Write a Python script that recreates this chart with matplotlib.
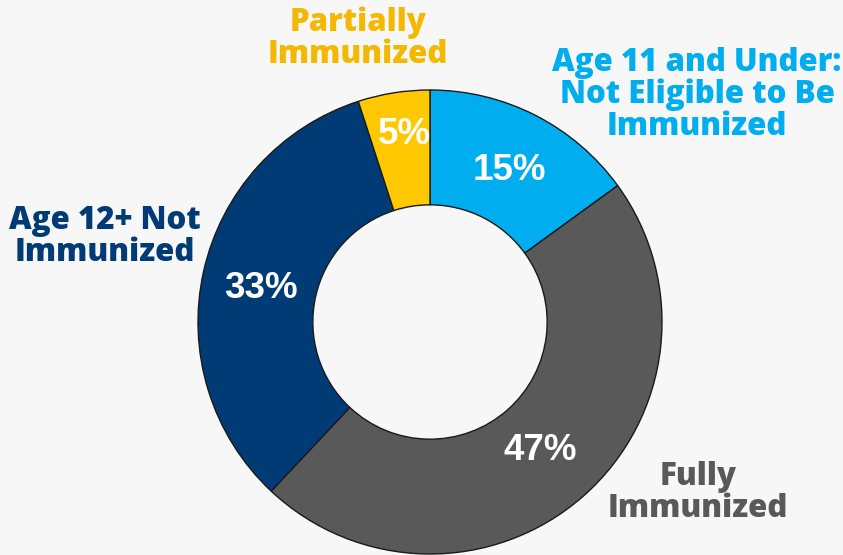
import matplotlib
matplotlib.use("Agg")
import matplotlib.pyplot as plt

categories = ["Age 11 and Under:\nNot Eligible to Be\nImmunized", "Fully\nImmunized",
              "Age 12+ Not\nImmunized", "Partially\nImmunized"]
values = [15, 47, 33, 5]
pct_labels = ["15%", "47%", "33%", "5%"]
colors = ["#00adef", "#595959", "#003b75", "#ffc800"]
label_colors = ["#00adef", "#595959", "#003b75", "#f5b800"]

W, H = 843, 555
bg = "#f7f7f7"
fig = plt.figure(figsize=(W / 100, H / 100), dpi=100, facecolor=bg)

cx, cy, R = 430, 322, 232
ax = fig.add_axes([(cx - R) / W, (H - cy - R) / H, 2 * R / W, 2 * R / H])
ax.set_facecolor(bg)
wedges, _ = ax.pie(values, colors=colors, startangle=90, counterclock=False,
                   radius=1, wedgeprops=dict(width=0.495, edgecolor="#1a1a1a", linewidth=1.0))
ax.set_xlim(-1, 1)
ax.set_ylim(-1, 1)
ax.set_aspect("equal")
ax.axis("off")

# percentage labels (pixel positions)
pct_pos = [(509, 170), (540, 451), (261, 288), (404, 135)]
for (px, py), t in zip(pct_pos, pct_labels):
    fig.text(px / W, 1 - py / H, t, ha="center", va="center", color="white",
             fontsize=26.5, fontweight="bold", family="Liberation Sans")

# category labels
cat_pos = [(697, 95), (698, 493), (105, 237), (358, 39)]
for (px, py), t, c in zip(cat_pos, categories, label_colors):
    fig.text(px / W, 1 - py / H, t, ha="center", va="center", color=c,
             fontsize=22.5, fontweight="heavy", family="Open Sans", linespacing=1.0,
             multialignment="center")

fig.savefig("out.png", dpi=100, facecolor=bg)
